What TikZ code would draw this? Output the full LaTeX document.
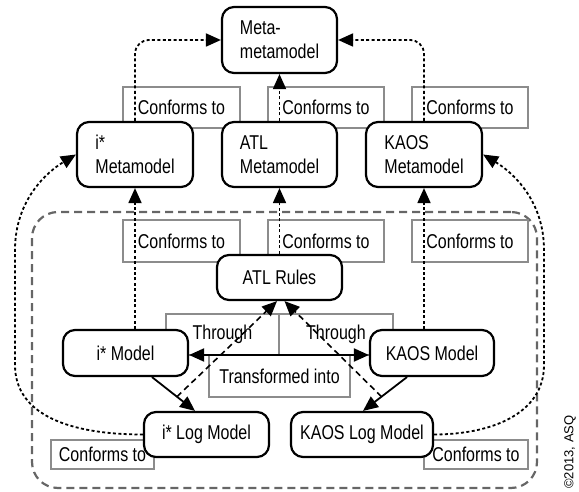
\documentclass[tikz,border=0pt]{standalone}
\usepackage{fontspec}
\setmainfont{Liberation Sans}[FakeStretch=0.8]
\newfontfamily\notefont{Liberation Sans}
\usetikzlibrary{arrows.meta,calc}

\begin{document}
\begin{tikzpicture}[x=1pt,y=-1pt,
  font=\fontsize{20}{24}\selectfont,
  model/.style={draw,line width=2.2pt,rounded corners=12pt,fill=white,
    inner sep=0pt,align=left},
  tag/.style={draw=black!45,line width=1.1pt,inner sep=0pt},
  group/.style={draw=black!60,line width=2.2pt,rounded corners=26pt,
    dash pattern=on 8pt off 5pt},
  tipx/.style={-{Triangle[length=15pt,width=13pt]}},
  conf/.style={tipx,line width=1.8pt,dash pattern=on 3pt off 2.4pt},
  flow/.style={tipx,line width=1.8pt},
  through/.style={tipx,line width=1.6pt,dash pattern=on 6pt off 4pt}]

\useasboundingbox (0,0) rectangle (579,492);

% transformation scope
\node[group,minimum width=505pt,minimum height=276pt] (grp) at (284.5,350) {};

% relation labels
\node[tag,minimum width=117pt,minimum height=41pt] (c1) at (181.5,107.5) {Conforms to};
\node[tag,minimum width=116pt,minimum height=41pt] (c2) at (326,107.5) {Conforms to};
\node[tag,minimum width=116pt,minimum height=41pt] (c3) at (470,107.5) {Conforms to};
\node[tag,minimum width=117pt,minimum height=42pt] (c4) at (181.5,241) {Conforms to};
\node[tag,minimum width=116pt,minimum height=42pt] (c5) at (326,241) {Conforms to};
\node[tag,minimum width=116pt,minimum height=42pt] (c6) at (470,241) {Conforms to};
\node[tag,minimum width=103pt,minimum height=29pt] (c7) at (102.5,454.5) {Conforms to};
\node[tag,minimum width=104pt,minimum height=29pt] (c8) at (476,454.5) {Conforms to};
\node[tag,minimum width=113pt,minimum height=41pt] (th1) at (222.5,334.5) {Through};
\node[tag,minimum width=114pt,minimum height=41pt] (th2) at (336,334.5) {Through};
\node[tag,minimum width=141pt,minimum height=42pt] (tr) at (279.5,376) {Transformed into};

% models
\node[model,minimum width=115pt,minimum height=66pt] (mm) at (279.5,40) {Meta-\\metamodel};
\node[model,minimum width=116pt,minimum height=65pt] (imeta) at (135,154.5) {i*\\Metamodel};
\node[model,minimum width=115pt,minimum height=65pt] (atlmeta) at (279.5,154.5) {ATL\\Metamodel};
\node[model,minimum width=116pt,minimum height=65pt] (kmeta) at (424,154.5) {KAOS\\Metamodel};
\node[model,minimum width=125pt,minimum height=45pt] (rules) at (279.5,277.5) {ATL Rules};
\node[model,minimum width=125pt,minimum height=46pt] (imodel) at (125.5,353) {i* Model};
\node[model,minimum width=124pt,minimum height=46pt] (kmodel) at (432,353) {KAOS Model};
\node[model,minimum width=125pt,minimum height=45pt] (ilog) at (206.5,434.5) {i* Log Model};
\node[model,minimum width=142pt,minimum height=45pt] (klog) at (362,434.5) {KAOS Log Model};

% conformance
\draw[conf,rounded corners=14pt] (imeta.north) |- (mm.west);
\draw[conf,rounded corners=14pt] (kmeta.north) |- (mm.east);
\draw[conf] (atlmeta.north) -- (mm.south);
\draw[conf] (imodel.north -| imeta.south) -- (imeta.south);
\draw[conf] (rules.north) -- (atlmeta.south);
\draw[conf] (kmodel.north -| kmeta.south) -- (kmeta.south);
\draw[conf] (ilog.west) .. controls (70,434.5) and (15,415) .. (15,365)
  -- (15,250) .. controls (15,200) and (47,172) .. (imeta.west);
\draw[conf] (klog.east) .. controls (489,434.5) and (544,415) .. (544,365)
  -- (544,250) .. controls (544,200) and (512,172) .. (kmeta.east);

% transformation
\draw[{Triangle[length=15pt,width=13pt]}-{Triangle[length=15pt,width=13pt]},line width=2pt]
  ([yshift=-2pt]imodel.east) -- ([yshift=-2pt]kmodel.west);
\coordinate (is) at ([xshift=26.5pt]imodel.south);
\coordinate (ie) at ([xshift=-11.5pt]ilog.north);
\coordinate (ks) at ([xshift=-25pt]kmodel.south);
\coordinate (ke) at ([xshift=1pt]klog.north);
\draw[flow] (is) -- (ie);
\draw[flow] (ks) -- (ke);
\draw[through] ($(is)!0.58!(ie)$) -- ([xshift=-2.5pt]rules.south);
\draw[through] ($(ks)!0.58!(ke)$) -- ([xshift=5pt]rules.south);

\node[rotate=90,font=\notefont\fontsize{13}{15}\selectfont] (copy) at (570,452) {©2013, ASQ};
\end{tikzpicture}
\end{document}
